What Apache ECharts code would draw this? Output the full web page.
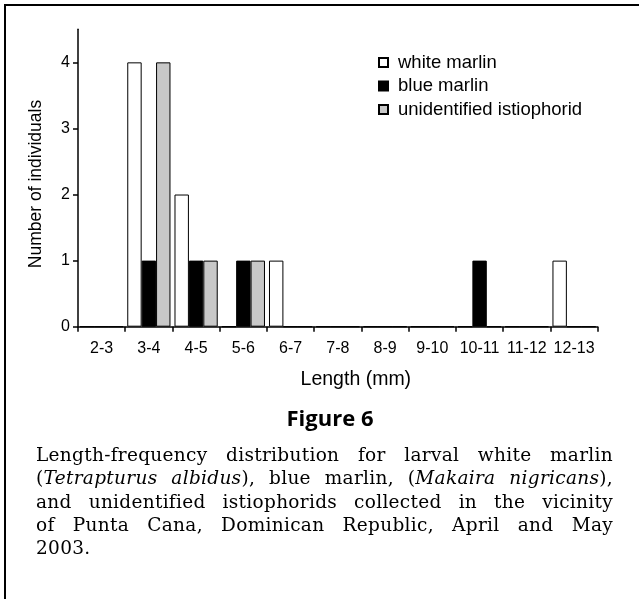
<!DOCTYPE html>
<html>
<head>
<meta charset="utf-8">
<script src="https://cdn.jsdelivr.net/npm/echarts@6/dist/echarts.min.js"></script>
<style>
  html, body { margin: 0; padding: 0; background: #fff; }
  #wrap { position: relative; width: 639px; height: 599px; overflow: hidden; }
  #frame { position: absolute; left: 4px; top: 4px; width: 700px; height: 700px;
           border-top: 2.5px solid #000; border-left: 2.5px solid #000; }
  #chart { position: absolute; left: 0; top: 0; width: 639px; height: 599px; }
  #caption { position: absolute; left: 36px; top: 443px; width: 577px;
             font-family: "DejaVu Serif", serif; font-size: 18.5px; letter-spacing: 0.3px;
             line-height: 23.3px; color: #000; }
  #caption .j { text-align: justify; text-align-last: justify; white-space: nowrap; }
  #caption .l { text-align: left; }
</style>
</head>
<body>
<div id="wrap">
  <div id="frame"></div>
  <div id="chart"></div>
  <div id="caption">
    <div class="j">Length-frequency distribution for larval white marlin</div>
    <div class="j">(<i>Tetrapturus albidus</i>), blue marlin, (<i>Makaira nigricans</i>),</div>
    <div class="j">and unidentified istiophorids collected in the vicinity</div>
    <div class="j">of Punta Cana, Dominican Republic, April and May</div>
    <div class="l">2003.</div>
  </div>
</div>
<script>
const categories = ['2-3','3-4','4-5','5-6','6-7','7-8','8-9','9-10','10-11','11-12','12-13'];
const whiteMarlin = [0,4,2,0,1,0,0,0,0,0,1];
const blueMarlin  = [0,1,1,1,0,0,0,0,1,0,0];
const unidentified = [0,4,1,1,0,0,0,0,0,0,0];
const yTicks = [0,1,2,3,4];

const chart = echarts.init(document.getElementById('chart'), null, {renderer: 'canvas'});
const sans = '"Liberation Sans", Arial, sans-serif';
chart.setOption({
  animation: false,
  backgroundColor: 'transparent',
  title: {
    text: 'Figure 6',
    left: 325, top: 404, textAlign: 'center',
    textStyle: { fontFamily: 'Open Sans', fontWeight: 'bold', fontSize: 22, color: '#000' }
  },
  legend: {
    orient: 'vertical',
    left: 378, top: 53, padding: 0,
    itemWidth: 9, itemHeight: 9, itemGap: 4.5,
    icon: 'rect',
    textStyle: { fontFamily: sans, fontSize: 18.5, color: '#000', lineHeight: 18, padding: [0,0,0,5] },
    data: ['white marlin', 'blue marlin', 'unidentified istiophorid']
  },
  grid: { left: 78, right: 41.3, top: 29.3, bottom: 272.3 },
  xAxis: {
    type: 'category',
    data: categories,
    boundaryGap: true,
    name: 'Length (mm)',
    nameLocation: 'middle',
    nameGap: 43,
    nameTextStyle: { fontFamily: sans, fontSize: 19.5, color: '#000', padding: [0,0,0,36] },
    axisLine: { lineStyle: { color: '#000', width: 1.5 } },
    axisTick: { show: true, length: 5, alignWithLabel: false, lineStyle: { color: '#000', width: 1.5 } },
    axisLabel: { fontFamily: sans, fontSize: 16, color: '#000', margin: 14, interval: 0 },
    splitLine: { show: false }
  },
  yAxis: {
    type: 'value',
    min: 0, max: 4.5, interval: 1,
    name: 'Number of individuals',
    nameLocation: 'middle',
    nameGap: 33,
    nameRotate: 90,
    nameTextStyle: { fontFamily: sans, fontSize: 17.5, color: '#000', padding: [0,12,0,0] },
    axisLine: { show: true, lineStyle: { color: '#000', width: 1.5 } },
    axisTick: { show: true, length: 5, customValues: yTicks, lineStyle: { color: '#000', width: 1.5 } },
    axisLabel: { fontFamily: sans, fontSize: 16, color: '#000', margin: 8, customValues: yTicks },
    splitLine: { show: false }
  },
  series: [
    { name: 'white marlin', type: 'bar', data: whiteMarlin, barGap: '0%', barCategoryGap: '8.5%',
      itemStyle: { color: '#ffffff', borderColor: '#000', borderWidth: 1 } },
    { name: 'blue marlin', type: 'bar', data: blueMarlin, barGap: '0%', barCategoryGap: '8.5%',
      itemStyle: { color: '#000000', borderColor: '#000', borderWidth: 1 } },
    { name: 'unidentified istiophorid', type: 'bar', data: unidentified, barGap: '0%', barCategoryGap: '8.5%',
      itemStyle: { color: '#c8c8c8', borderColor: '#000', borderWidth: 1 } }
  ]
});
</script>
</body>
</html>
